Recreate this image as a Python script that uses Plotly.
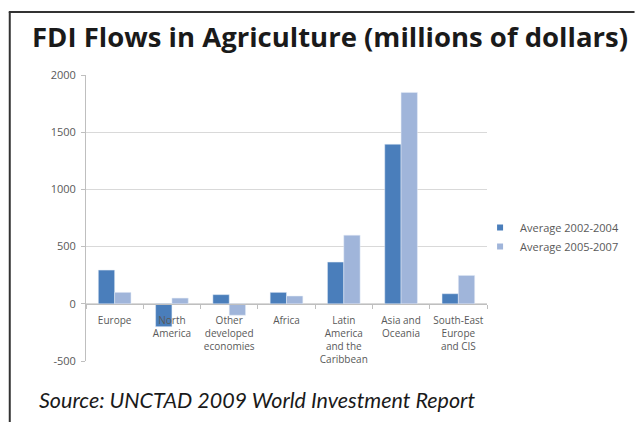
import plotly.graph_objects as go

categories = ["Europe", "North<br>America", "Other<br>developed<br>economies", "Africa",
              "Latin<br>America<br>and the<br>Caribbean", "Asia and<br>Oceania",
              "South-East<br>Europe<br>and CIS"]
avg_2002_2004 = [295, -200, 80, 100, 365, 1395, 88]
avg_2005_2007 = [100, 50, -100, 68, 600, 1848, 248]
series_names = ["Average 2002-2004", "Average 2005-2007"]
series_colors = ["#4A7EBB", "#A0B5DA"]
y_ticks = [-500, 0, 500, 1000, 1500, 2000]
y_tick_labels = ["-500", "0", "500", "1000", "1500", "2000"]

W, H = 636, 422
L, R, T, B = 86, 145, 75, 61
pw, ph = W - L - R, H - T - B

def px_x(x):
    return (x - L) / pw

def px_y(y):
    return (H - B - y) / ph

fig = go.Figure()
for name, vals, col in zip(series_names, [avg_2002_2004, avg_2005_2007], series_colors):
    fig.add_bar(x=categories, y=vals, name=name, marker_color=col, showlegend=False)
    fig.add_scatter(x=[None], y=[None], mode="markers", name=name,
                    marker=dict(symbol="square", size=6, color=col), showlegend=True)

axis_font = dict(family="Open Sans, sans-serif", size=10, color="#595959")

fig.update_layout(
    width=W, height=H,
    margin=dict(l=L, r=R, t=T, b=B, pad=0),
    paper_bgcolor="white", plot_bgcolor="white",
    barmode="group", bargap=0.43, bargroupgap=0,
    showlegend=True,
    legend=dict(x=px_x(484), xanchor="left", y=px_y(237), yanchor="middle",
                font=dict(family="Open Sans, sans-serif", size=11, color="#595959"),
                bgcolor="rgba(0,0,0,0)", tracegroupgap=0, itemwidth=30),
    xaxis=dict(anchor="free", position=500 / 2500, showline=True, linecolor="#BFBFBF",
               linewidth=1, ticks="outside", tickson="boundaries", ticklen=4,
               tickcolor="#BFBFBF", tickfont=axis_font, tickangle=0,
               ticklabelstandoff=7, showgrid=False, zeroline=False),
    yaxis=dict(range=[-500, 2000], tickvals=y_ticks, ticktext=y_tick_labels,
               showline=True, linecolor="#BFBFBF",
               linewidth=1, ticks="outside", ticklen=4, tickcolor="#BFBFBF",
               gridcolor="#D9D9D9", gridwidth=1, zeroline=False,
               tickfont=dict(family="Open Sans, sans-serif", size=11, color="#595959"),
               ticklabelstandoff=3),
    font=dict(family="Open Sans, sans-serif"),
)

# outer frame
fig.add_shape(type="line", xref="paper", yref="paper",
              x0=px_x(9), x1=px_x(9), y0=px_y(430), y1=px_y(12),
              line=dict(color="#333333", width=2))
fig.add_shape(type="line", xref="paper", yref="paper",
              x0=px_x(8), x1=px_x(640), y0=px_y(12), y1=px_y(12),
              line=dict(color="#333333", width=2))

fig.add_annotation(xref="paper", yref="paper", x=px_x(29), y=px_y(37),
                   xanchor="left", yanchor="middle", showarrow=False,
                   text="<b>FDI Flows in Agriculture (millions of dollars)</b>",
                   font=dict(family="Open Sans, sans-serif", size=27.5, color="#1a1a1a"))
fig.add_annotation(xref="paper", yref="paper", x=px_x(37), y=px_y(400),
                   xanchor="left", yanchor="middle", showarrow=False,
                   text="<i>Source: UNCTAD 2009 World Investment Report</i>",
                   font=dict(family="Lato, sans-serif", size=21.5, color="#1a1a1a"))

fig.write_html("out.html")
